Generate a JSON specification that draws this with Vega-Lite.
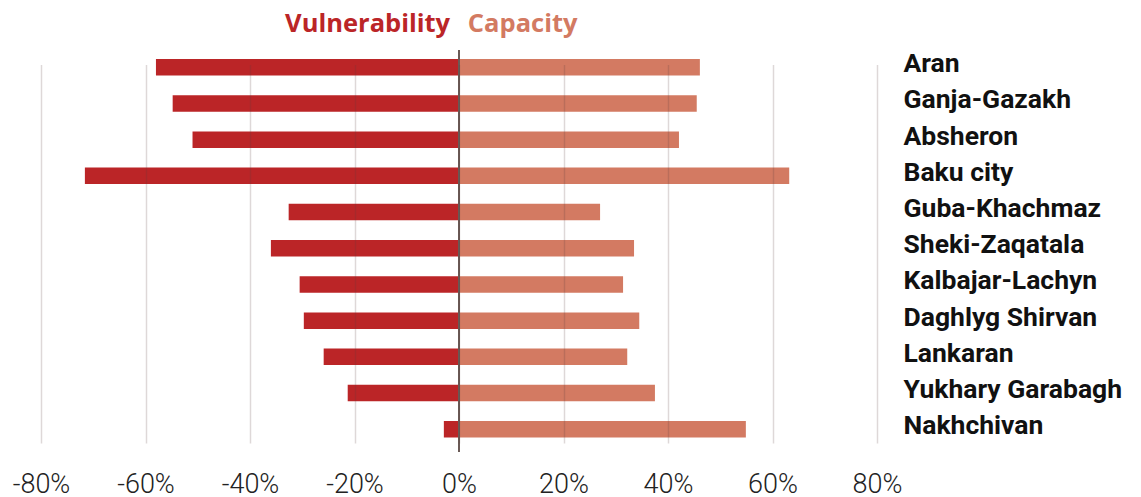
{
  "$schema": "https://vega.github.io/schema/vega-lite/v6.json",
  "width": 836,
  "height": 402,
  "autosize": {"type": "none"},
  "padding": {"left": 41, "top": 50, "right": 264, "bottom": 45},
  "background": "white",
  "config": {"view": {"stroke": null}, "font": "Roboto"},
  "data": {
    "values": [
      {"region": "Aran", "vulnerability": -58.0, "capacity": 46.1},
      {"region": "Ganja-Gazakh", "vulnerability": -54.8, "capacity": 45.5},
      {"region": "Absheron", "vulnerability": -51.0, "capacity": 42.1},
      {"region": "Baku city", "vulnerability": -71.6, "capacity": 63.2},
      {"region": "Guba-Khachmaz", "vulnerability": -32.6, "capacity": 27.0},
      {"region": "Sheki-Zaqatala", "vulnerability": -36.0, "capacity": 33.5},
      {"region": "Kalbajar-Lachyn", "vulnerability": -30.5, "capacity": 31.4},
      {"region": "Daghlyg Shirvan", "vulnerability": -29.7, "capacity": 34.5},
      {"region": "Lankaran", "vulnerability": -25.9, "capacity": 32.2},
      {"region": "Yukhary Garabagh", "vulnerability": -21.3, "capacity": 37.5},
      {"region": "Nakhchivan", "vulnerability": -2.9, "capacity": 54.9}
    ]
  },
  "layer": [
    {
      "mark": {"type": "bar", "color": "#bb2527"},
      "encoding": {
        "y": {
          "field": "region", "type": "nominal", "sort": null,
          "scale": {"range": [9, 387.5], "paddingInner": 0.544, "paddingOuter": 0},
          "axis": {
            "orient": "right", "title": null, "ticks": false, "domain": false, "grid": false,
            "labelFont": "Roboto", "labelFontSize": 26.5, "labelFontWeight": "bold",
            "labelColor": "#111111", "labelPadding": 26, "labelOffset": -3, "labelLimit": 400
          }
        },
        "x": {
          "field": "vulnerability", "type": "quantitative",
          "scale": {"domain": [-80, 80], "nice": false, "zero": true},
          "axis": {
            "orient": "bottom", "title": null,
            "values": [-80, -60, -40, -20, 0, 20, 40, 60, 80],
            "labelExpr": "datum.value + '%'",
            "grid": true, "gridColor": "#5a3a3a", "gridOpacity": 0.2, "gridWidth": 1.5,
            "zindex": 1, "domain": false, "ticks": false, "tickSize": 0,
            "labelFont": "Roboto", "labelFontSize": 27, "labelFontWeight": 300,
            "labelColor": "#222222", "labelPadding": 19, "labelFlush": false, "labelOverlap": false
          }
        }
      }
    },
    {
      "mark": {"type": "bar", "color": "#d37a62"},
      "encoding": {
        "y": {
          "field": "region", "type": "nominal", "sort": null,
          "scale": {"range": [9, 387.5], "paddingInner": 0.544, "paddingOuter": 0},
          "axis": {
            "orient": "right", "title": null, "ticks": false, "domain": false, "grid": false,
            "labelFont": "Roboto", "labelFontSize": 26.5, "labelFontWeight": "bold",
            "labelColor": "#111111", "labelPadding": 26, "labelOffset": -3, "labelLimit": 400
          }
        },
        "x": {"field": "capacity", "type": "quantitative", "axis": null}
      }
    },
    {
      "data": {"values": [{"zero": 0}]},
      "mark": {"type": "rule", "color": "#6a5a56", "strokeWidth": 2},
      "encoding": {
        "x": {
          "field": "zero", "type": "quantitative",
          "axis": {
            "orient": "top", "title": null,
            "values": [-1.8, 1.6],
            "labelExpr": "datum.value < 0 ? 'Vulnerability' : 'Capacity'",
            "labelAlign": {"condition": {"test": "datum.value < 0", "value": "right"}, "value": "left"},
            "labelColor": {"condition": {"test": "datum.value < 0", "value": "#bb2527"}, "value": "#d37a62"},
            "labelFont": "Open Sans", "labelFontSize": 25.5, "labelFontWeight": "bold",
            "labelBaseline": "alphabetic", "labelPadding": 19,
            "grid": false, "domain": false, "ticks": false, "tickSize": 0,
            "labelFlush": false, "labelOverlap": false
          }
        }
      }
    }
  ],
  "resolve": {"axis": {"x": "independent"}}
}
